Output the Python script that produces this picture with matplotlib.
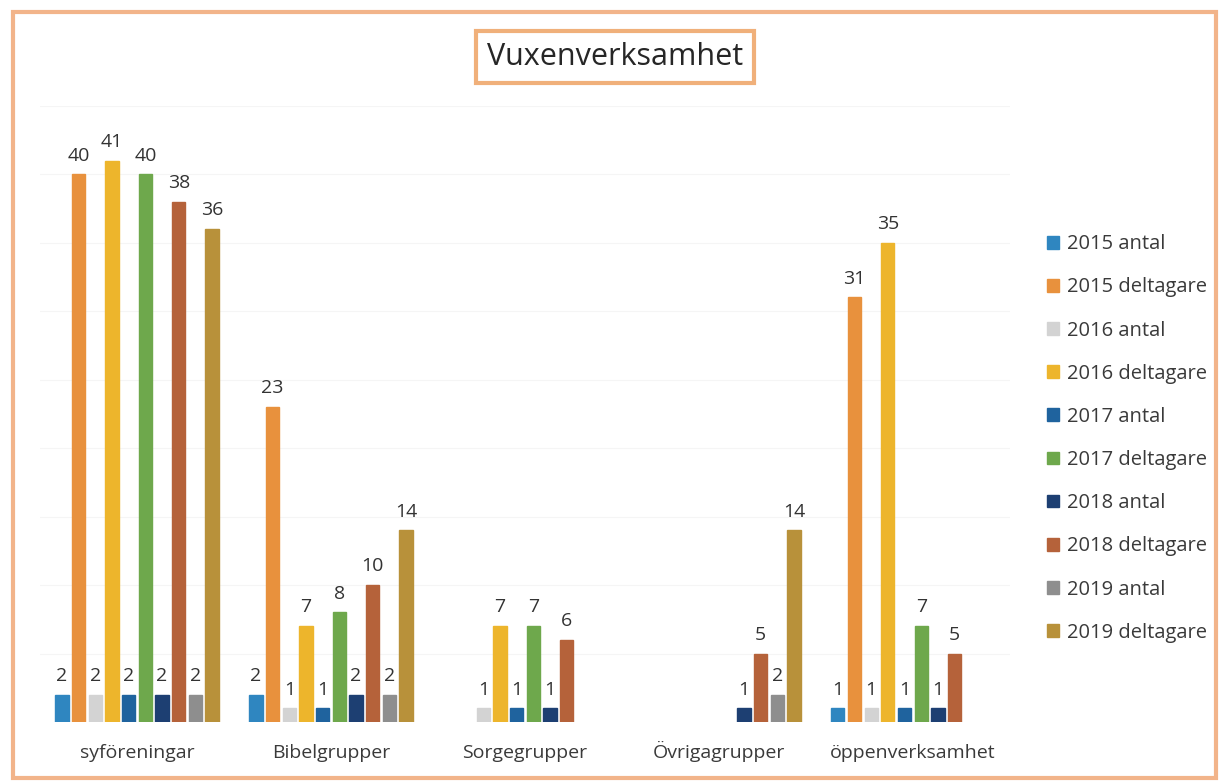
import numpy as np
import matplotlib
matplotlib.use("Agg")
import matplotlib.pyplot as plt
from matplotlib.patches import Rectangle

plt.rcParams.update({
    "font.family": "sans-serif",
    "font.sans-serif": ["Open Sans", "DejaVu Sans"],
})

nan = np.nan
categories = ["syföreningar", "Bibelgrupper", "Sorgegrupper", "Övrigagrupper", "öppenverksamhet"]
series_names = ["2015 antal", "2015 deltagare", "2016 antal", "2016 deltagare",
                "2017 antal", "2017 deltagare", "2018 antal", "2018 deltagare",
                "2019 antal", "2019 deltagare"]

antal_2015 = [2, 2, nan, nan, 1]
delt_2015 = [40, 23, nan, nan, 31]
antal_2016 = [2, 1, 1, nan, 1]
delt_2016 = [41, 7, 7, nan, 35]
antal_2017 = [2, 1, 1, nan, 1]
delt_2017 = [40, 8, 7, nan, 7]
antal_2018 = [2, 2, 1, 1, 1]
delt_2018 = [38, 10, 6, 5, 5]
antal_2019 = [2, 2, nan, 2, nan]
delt_2019 = [36, 14, nan, 14, nan]

values = [antal_2015, delt_2015, antal_2016, delt_2016, antal_2017,
          delt_2017, antal_2018, delt_2018, antal_2019, delt_2019]

colors = ["#2f86c0", "#e8913d", "#d3d3d3", "#edb52c", "#1f639e",
          "#6ea84c", "#1d3f72", "#b5623a", "#8e8e8e", "#b8913a"]

fig = plt.figure(figsize=(12.2, 7.83), dpi=100)
ax = fig.add_axes([0.0328, 0.0779, 0.795, 0.787])

x = np.arange(len(categories))
slot = 0.086
width = 0.068
for i, (name, vals, c) in enumerate(zip(series_names, values, colors)):
    xs = x - 4.5 * slot + i * slot
    bars = ax.bar(xs, vals, width=width, color=c, edgecolor=c, label=name)
    labels = ["" if np.isnan(v) else f"{int(v)}" for v in vals]
    ax.bar_label(bars, labels=labels, padding=7, fontsize=14, color="#333333")

ax.set_xlim(-0.5, 4.5)
ax.set_ylim(0, 45)
ax.set_yticks(np.arange(5, 46, 5))
ax.yaxis.grid(True, color="#f5f5f5", lw=0.8)
ax.set_axisbelow(True)
ax.set_yticklabels([])
ax.set_xticks(x)
ax.set_xticklabels(categories, fontsize=14, color="#3a3a3a")
ax.tick_params(axis="both", length=0)
ax.tick_params(axis="x", pad=26)
for lab in ax.get_xticklabels():
    lab.set_va("baseline")
for s in ax.spines.values():
    s.set_visible(False)

leg = fig.legend(loc="upper left", bbox_to_anchor=(0.843, 0.724), frameon=False,
                 fontsize=14.5, handlelength=0.6, handleheight=0.6, handletextpad=0.4,
                 labelspacing=1.15, labelcolor="#3a3a3a")

fig.text(0.504, 0.927, "Vuxenverksamhet", fontsize=22, ha="center", va="center",
         color="#262626",
         bbox=dict(boxstyle="square,pad=0.35", fc="white", ec="#f0b07a", lw=3))

fig.patches.append(Rectangle((0.011, 0.007), 0.986, 0.978, transform=fig.transFigure,
                             fill=False, ec="#f2b48a", lw=3))

fig.savefig("out.png", dpi=100, facecolor="white")
